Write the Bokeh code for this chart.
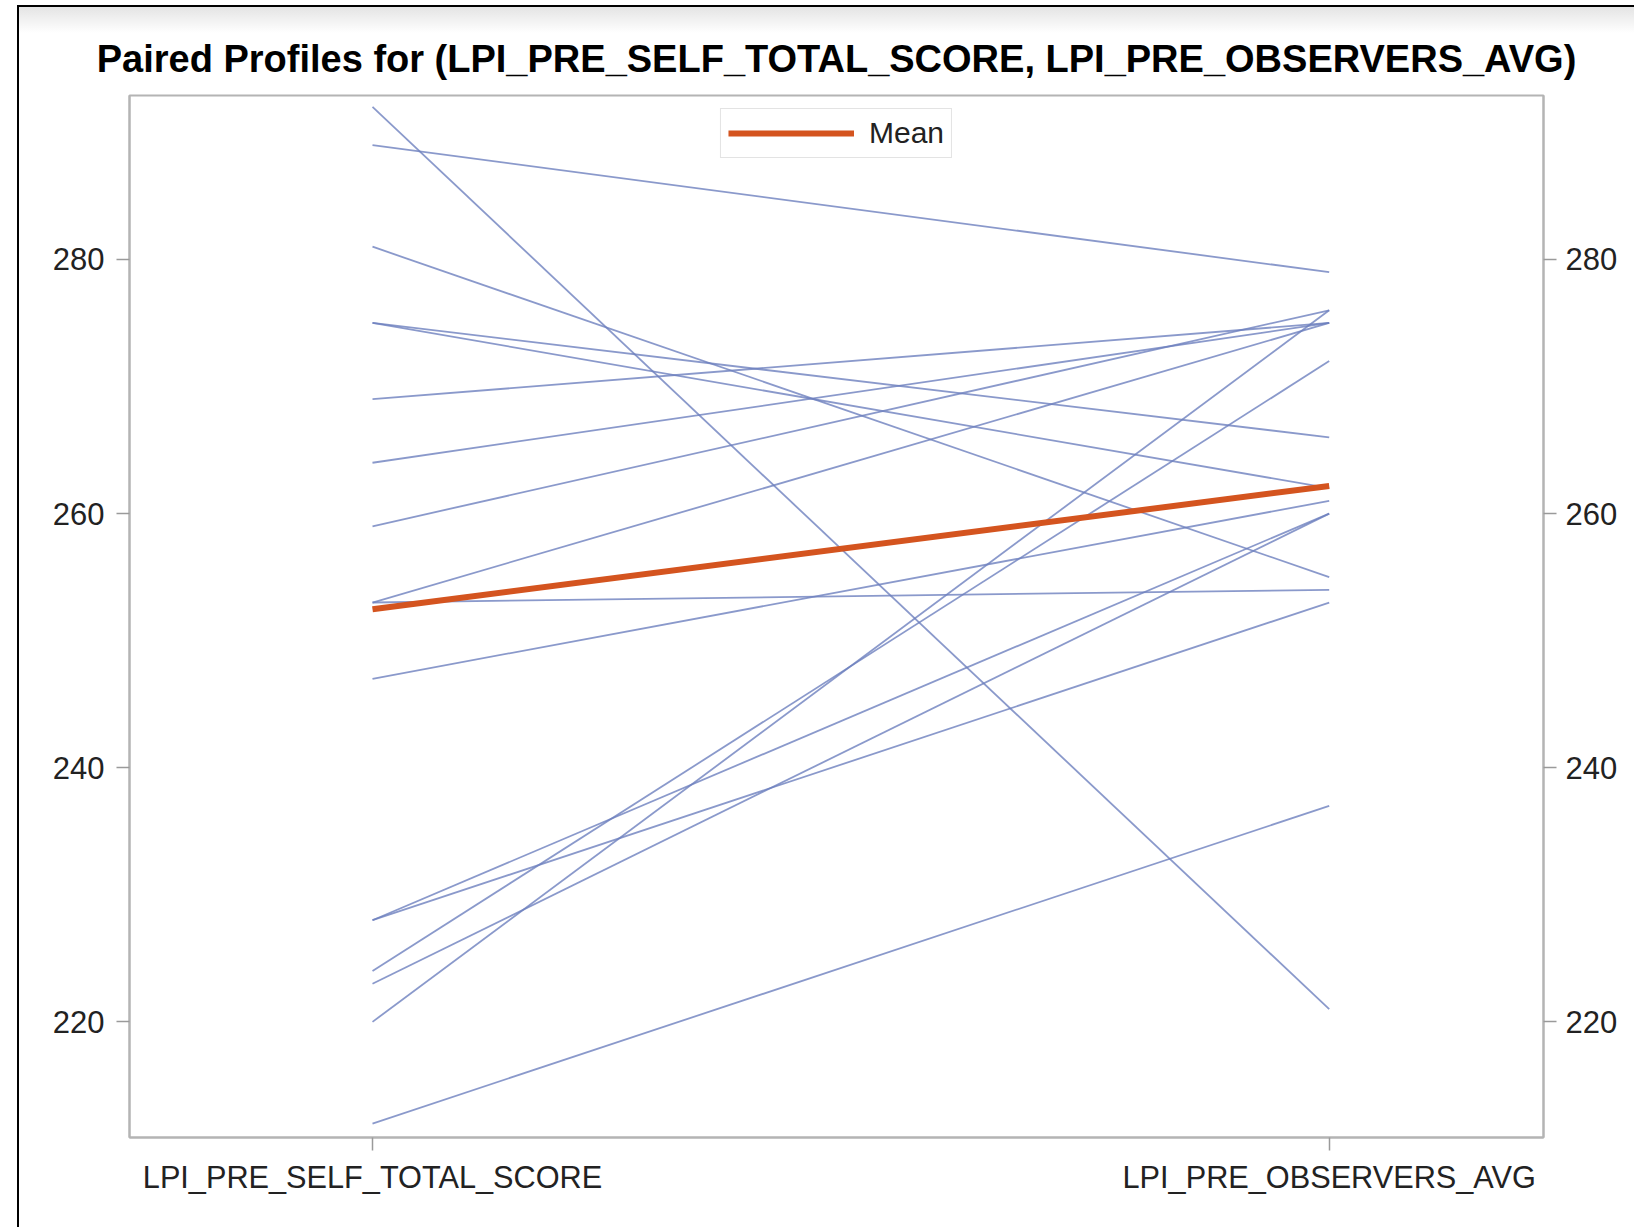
import numpy as np
from bokeh.plotting import figure
from bokeh.models import Range1d, LinearAxis, FixedTicker, InlineStyleSheet
from bokeh.embed import file_html
from bokeh.resources import INLINE

# Paired measurements per subject
variables = ["LPI_PRE_SELF_TOTAL_SCORE", "LPI_PRE_OBSERVERS_AVG"]
self_total = [292, 289, 281, 275, 275, 269, 264, 259, 253, 253, 247, 228, 228, 224, 223, 220, 212]
observers_avg = [221, 279, 255, 266, 262, 275, 275, 276, 275, 254, 261, 253, 260, 272, 260, 276, 237]
y_ticks = [220, 240, 260, 280]

FONT = "Liberation Sans"

p = figure(
    width=1634, height=1227,
    output_backend="svg", toolbar_location=None,
    x_range=Range1d(-0.254, 1.224), y_range=Range1d(210.9, 292.9),
    min_border_left=129, min_border_right=91, min_border_top=95, min_border_bottom=90,
    title="Paired Profiles for (LPI_PRE_SELF_TOTAL_SCORE, LPI_PRE_OBSERVERS_AVG)",
)
p.background_fill_color = "white"
p.border_fill_color = "white"
p.outline_line_color = "#b4b4b4"
p.outline_line_width = 2
p.xgrid.visible = False
p.ygrid.visible = False

p.title.text_font = FONT
p.title.text_font_size = "38px"
p.title.text_font_style = "bold"
p.title.text_color = "#000000"
p.title.align = "center"
p.title.standoff = 32

# one profile line per subject
xpos = list(range(len(variables)))
xs = [xpos for _ in self_total]
ys = [[a, b] for a, b in zip(self_total, observers_avg)]
p.multi_line(xs, ys, line_color="#6d7fbe", line_width=1.8, line_alpha=0.8)

# mean profile
mean_vals = [float(np.mean(self_total)), float(np.mean(observers_avg))]
p.line(xpos, mean_vals, line_color="#d4541f", line_width=6, legend_label="Mean")

# axes
p.xaxis.ticker = FixedTicker(ticks=xpos)
p.xaxis.major_label_overrides = {i: v for i, v in enumerate(variables)}
p.yaxis.ticker = FixedTicker(ticks=y_ticks)
p.add_layout(LinearAxis(ticker=FixedTicker(ticks=y_ticks)), "right")

for ax in p.xaxis + p.yaxis:
    ax.axis_line_color = "#b4b4b4"
    ax.axis_line_width = 2
    ax.major_tick_line_color = "#9a9a9a"
    ax.major_tick_line_width = 1.5
    ax.major_tick_out = 13
    ax.major_tick_in = 0
    ax.minor_tick_line_color = None
    ax.major_label_text_font = FONT
    ax.major_label_text_font_size = "31px"
    ax.major_label_text_color = "#222222"
    ax.major_label_standoff = 9
p.xaxis.major_label_text_font_size = "30.7px"
p.yaxis[0].major_label_standoff = 12

# legend
lg = p.legend[0]
lg.location = "top_center"
lg.orientation = "horizontal"
lg.label_text_font = FONT
lg.label_text_font_size = "30px"
lg.label_text_color = "#222222"
lg.glyph_width = 126
lg.glyph_height = 30
lg.label_standoff = 15
lg.padding = 7
lg.margin = 13
lg.border_line_color = "#c8c8c8"
lg.border_line_width = 1.5
lg.background_fill_color = "white"
lg.background_fill_alpha = 1.0

# page frame: black rule along the top and left edge with a soft shade under the top rule
p.stylesheets = [InlineStyleSheet(css="""
:host::after {
  content: "";
  position: absolute;
  left: 17px; top: 5px; right: 0; bottom: 0;
  border-left: 2px solid #000;
  border-top: 2px solid #000;
  background: linear-gradient(to bottom, rgba(225,225,225,0.9) 0px, rgba(255,255,255,0) 26px);
  pointer-events: none;
  z-index: 10;
}
""")]

open("out.html", "w").write(file_html(p, INLINE))
